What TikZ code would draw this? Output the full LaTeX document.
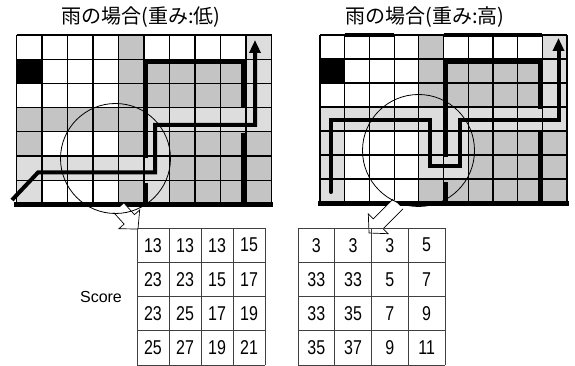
\documentclass[tikz,border=0pt]{standalone}
\usepackage{fontspec}
\setmainfont{Liberation Sans}
\newfontfamily\jpfont{Noto Sans CJK JP}
\usetikzlibrary{calc,arrows.meta}
\definecolor{mg}{RGB}{196,196,196}
\definecolor{lg}{RGB}{221,221,221}
\newcommand\hollowarrow[2]{%
  \coordinate (hb) at ($(#2)!13pt!(#1)$);
  \draw[line width=0.7pt, fill=white, line join=miter]
    ($(#1)!7pt!90:(#2)$) -- ($(hb)!7pt!90:(#2)$) -- ($(hb)!14pt!90:(#2)$) -- (#2)
    -- ($(hb)!14pt!-90:(#2)$) -- ($(hb)!7pt!-90:(#2)$) -- ($(#1)!7pt!-90:(#2)$);}
\begin{document}
\begin{tikzpicture}[x=1pt,y=-1pt,
  gl/.style={line width=1.2pt},
  wall/.style={line width=4.5pt, line join=miter},
  base/.style={line width=5pt},
  route/.style={line width=4pt, line join=miter, -{Triangle[length=13pt,width=11pt]}},
  ring/.style={line width=0.8pt},
  tl/.style={line width=0.8pt, draw=black!75},
  num/.style={font=\fontsize{20}{20}\selectfont, inner sep=0pt},
  title/.style={font=\jpfont\fontsize{20}{20}\selectfont, inner sep=0pt}]
\useasboundingbox (0,0) rectangle (575,366);

% titles
\node[title] (t1) at (141,17) {雨の場合(重み:低)};
\node[title] (t2) at (425,17) {雨の場合(重み:高)};

% ---------- left grid ----------
\begin{scope}[shift={(16.5pt,-35pt)},x=25.5pt,y=-24.2pt]
  \foreach \p/\q in {4/0,4/1,5/1,6/1,7/1,8/1,4/2,5/2,6/2,7/2,8/2,0/3,1/3,2/3,3/3,4/3,
      0/4,4/4,6/4,7/4,8/4,9/4,6/5,7/5,8/5,9/5,4/6,6/6,7/6,8/6,9/6}
    \fill[mg] (\p,\q) rectangle ++(1,1);
  \foreach \p/\q in {9/0,9/1,9/2,5/3,6/3,7/3,8/3,9/3,5/4,0/5,1/5,2/5,3/5,4/5,5/5,0/6,5/6}
    \fill[lg] (\p,\q) rectangle ++(1,1);
  \fill[black] (0,1) rectangle ++(1,1);
  \foreach \i in {0,...,10} \draw[gl] (\i,0) -- (\i,7);
  \foreach \j in {0,...,7} \draw[gl] (0,\j) -- (10,\j);
\end{scope}
\draw[wall] (145.5,158) -- (145.5,61.5) -- (243.5,61.5) -- (243.5,108);
\draw[wall] (145.5,183) -- (145.5,204);
\draw[wall] (243.5,133) -- (243.5,204);
\draw[base] (14,204.5) -- (273,204.5);
\draw[route] (12,200) -- (38,172.5) -- (155,172.5) -- (155,125) -- (255,125) -- (255,40);

% ---------- right grid ----------
\begin{scope}[shift={(320pt,-35pt)},x=24.7pt,y=-24pt]
  \foreach \p/\q in {4/0,4/1,5/1,6/1,7/1,8/1,4/2,5/2,6/2,7/2,8/2,
      6/4,7/4,8/4,9/4,6/5,7/5,8/5,9/5,4/6,5/6,6/6,7/6,8/6,9/6}
    \fill[mg] (\p,\q) rectangle ++(1,1);
  \foreach \p/\q in {9/0,9/1,9/2,0/3,1/3,2/3,3/3,4/3,5/3,6/3,7/3,8/3,9/3,
      0/4,4/4,5/4,0/5,4/5,5/5,0/6}
    \fill[lg] (\p,\q) rectangle ++(1,1);
  \fill[black] (0,1) rectangle ++(1,1);
  \foreach \i in {0,...,10} \draw[gl] (\i,0) -- (\i,7);
  \foreach \j in {0,...,7} \draw[gl] (0,\j) -- (10,\j);
\end{scope}
\draw[wall] (344.7,35) -- (394.1,35);
\draw[wall] (443.5,35) -- (542.3,35);
\draw[wall] (446,157) -- (446,62) -- (540,62) -- (540,109);
\draw[wall] (446,182) -- (446,203);
\draw[wall] (540,130) -- (540,203);
\draw[base] (318,203.5) -- (569,203.5);
\draw[route, line cap=round] (331,192) -- (331,120.5) -- (429.5,120.5) -- (429.5,166)
   -- (460,166) -- (460,120.5) -- (558.5,120.5) -- (558.5,38);

% ---------- arrows and circles ----------
\coordinate (lc) at (115.5,158.5);
\coordinate (rc) at (418.5,150.5);
\coordinate (las) at (119,208);
\coordinate (lat) at (138,229);
\coordinate (ras) at (398,204);
\coordinate (rat) at (369,233);
\hollowarrow{las}{lat}
\hollowarrow{ras}{rat}
\draw[ring] (lc) circle[radius=55];
\draw[ring] (rc) circle[radius=56];

% ---------- score tables ----------
\node[font=\fontsize{16}{16}\selectfont, inner sep=0pt] (score) at (101,297) {Score};
\foreach \k in {0,...,4} \draw[tl] ({137+32*\k},228) -- ({137+32*\k},365);
\foreach \k in {0,...,4} \draw[tl] (137,{228+34.25*\k}) -- (265,{228+34.25*\k});
\foreach [count=\r] \va/\vb/\vc/\vd in {13/13/13/15,23/23/15/17,23/25/17/19,25/27/19/21}{
  \foreach [count=\k] \v in {\va,\vb,\vc,\vd}
    \node[num] (L-\r-\k) at ({137+32*(\k-0.5)},{228+34.25*(\r-0.5)}) {\scalebox{0.8}[1]{\v}};
}
\foreach \k in {0,...,4} \draw[tl] ({298+36.75*\k},228) -- ({298+36.75*\k},365);
\foreach \k in {0,...,4} \draw[tl] (298,{228+34.25*\k}) -- (445,{228+34.25*\k});
\foreach [count=\r] \va/\vb/\vc/\vd in {3/3/3/5,33/33/5/7,33/35/7/9,35/37/9/11}{
  \foreach [count=\k] \v in {\va,\vb,\vc,\vd}
    \node[num] (R-\r-\k) at ({298+36.75*(\k-0.5)},{228+34.25*(\r-0.5)}) {\scalebox{0.8}[1]{\v}};
}
\end{tikzpicture}
\end{document}
